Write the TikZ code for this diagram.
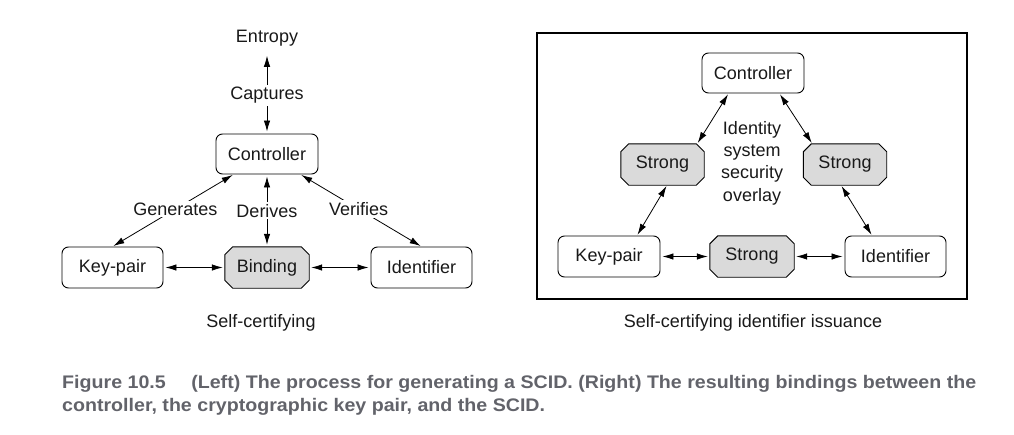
\documentclass[tikz,border=0pt]{standalone}
\usepackage{fontspec}
\usepackage{graphicx}
\setmainfont{Liberation Sans}
\usetikzlibrary{arrows.meta,backgrounds}
\definecolor{boxgray}{RGB}{218,218,218}
\definecolor{capgray}{RGB}{98,99,106}
\newsavebox\capboxA
\newsavebox\capboxB
\newcommand\capfnt{\fontsize{18.2}{22}\selectfont\bfseries\color{capgray}}
\newcommand\octoframe[1]{%
  \begin{pgfonlayer}{background}
  \draw[octline] ([xshift=8pt]#1.north west) -- ([xshift=-8pt]#1.north east) -- ([yshift=-8pt]#1.north east)
    -- ([yshift=8pt]#1.south east) -- ([xshift=-8pt]#1.south east) -- ([xshift=8pt]#1.south west)
    -- ([yshift=8pt]#1.south west) -- ([yshift=-8pt]#1.north west) -- cycle;
  \end{pgfonlayer}}
\begin{document}
\sbox\capboxA{\capfnt Figure 10.5\hspace{1.3em}(Left) The process for generating a SCID. (Right) The resulting bindings between the}%
\sbox\capboxB{\capfnt controller, the cryptographic key pair, and the SCID.}%
\begin{tikzpicture}[x=1pt,y=-1pt,
  every node/.style={font=\fontsize{18}{22}\selectfont, text=black!90},
  rbox/.style={draw, line width=0.9pt, rounded corners=6.5pt, minimum width=101pt, minimum height=41pt, inner sep=0pt, fill=white},
  obox/.style={minimum width=84pt, minimum height=41pt, inner sep=0pt},
  octline/.style={draw, line width=0.9pt, fill=boxgray, line join=miter},
  plain/.style={inner sep=0pt},
  conn/.style={line width=0.8pt, {Latex[length=11pt,width=6.5pt]}-{Latex[length=11pt,width=6.5pt]}},
  lbl/.style={fill=white, inner sep=2pt}
]
\useasboundingbox (0,0) rectangle (1014,434);

% ---------- Left diagram ----------
\node[plain] (ent) at (267,38.5) {Entropy};
\node[rbox, minimum width=102pt, minimum height=40pt] (ctrl) at (267,154) {Controller};
\node[rbox] (kp) at (112.5,267.5) {Key-pair};
\node[obox] (bind) at (267,267.5) {Binding};
\octoframe{bind}
\node[rbox] (id) at (421.5,267.5) {Identifier};

\draw[conn, shorten <=9pt, shorten >=2pt] (ent.south) -- node[lbl, pos=0.56] {Captures} (ctrl.north);
\draw[conn, shorten <=2pt, shorten >=2pt] (ctrl.south) -- node[lbl] {Derives} (bind.north);
\draw[conn, shorten <=1pt, shorten >=1pt] ([xshift=18pt]ctrl.south west) -- node[lbl, pos=0.48] {Generates} (kp.north);
\draw[conn, shorten <=1pt, shorten >=1pt] ([xshift=-18pt]ctrl.south east) -- node[lbl, pos=0.48] {Verifies} (id.north);
\draw[conn, shorten <=2pt, shorten >=2pt] (kp.east) -- (bind.west);
\draw[conn, shorten <=2pt, shorten >=2pt] (bind.east) -- (id.west);

\node[plain] (capL) at (261,323) {Self-certifying};

% ---------- Right diagram ----------
\draw[line width=1.1pt] (537,33) rectangle (967,299);
\node[rbox, minimum width=102pt, minimum height=40pt] (ctrl2) at (753,73) {Controller};
\node[obox, minimum width=83pt] (s1) at (662.5,164.5) {Strong};
\octoframe{s1}
\node[obox, minimum width=83pt] (s2) at (845,164.5) {Strong};
\octoframe{s2}
\node[rbox, minimum width=102pt] (kp2) at (609,256.5) {Key-pair};
\node[obox] (s3) at (752,256.5) {Strong};
\octoframe{s3}
\node[rbox] (id2) at (895.5,256.5) {Identifier};
\node[plain, align=center, font=\fontsize{18}{22.3}\selectfont] (ov) at (752,163) {Identity\\system\\security\\overlay};

\draw[conn, shorten <=1pt, shorten >=1pt] ([xshift=27pt]ctrl2.south west) -- ([xshift=-7pt]s1.north east);
\draw[conn, shorten <=1pt, shorten >=1pt] ([xshift=-25pt]ctrl2.south east) -- ([xshift=9pt]s2.north west);
\draw[conn, shorten <=1pt, shorten >=1pt] ([xshift=4.5pt]s1.south) -- ([xshift=28pt]kp2.north);
\draw[conn, shorten <=1pt, shorten >=1pt] ([xshift=-4pt]s2.south) -- ([xshift=-23.5pt]id2.north);
\draw[conn, shorten <=2pt, shorten >=2pt] (kp2.east) -- (s3.west);
\draw[conn, shorten <=2pt, shorten >=2pt] (s3.east) -- (id2.west);

\node[plain] (capR) at (753,323) {Self-certifying identifier issuance};

% ---------- Figure caption ----------
\node[plain, anchor=base west, text=capgray] (figcapA) at (62,388) {\resizebox{914pt}{\height}{\usebox\capboxA}};
\node[plain, anchor=base west, text=capgray] (figcapB) at (62,411) {\resizebox{\dimexpr \wd\capboxB * 914 / (\wd\capboxA / 65536)\relax}{\height}{\usebox\capboxB}};
\end{tikzpicture}
\end{document}
